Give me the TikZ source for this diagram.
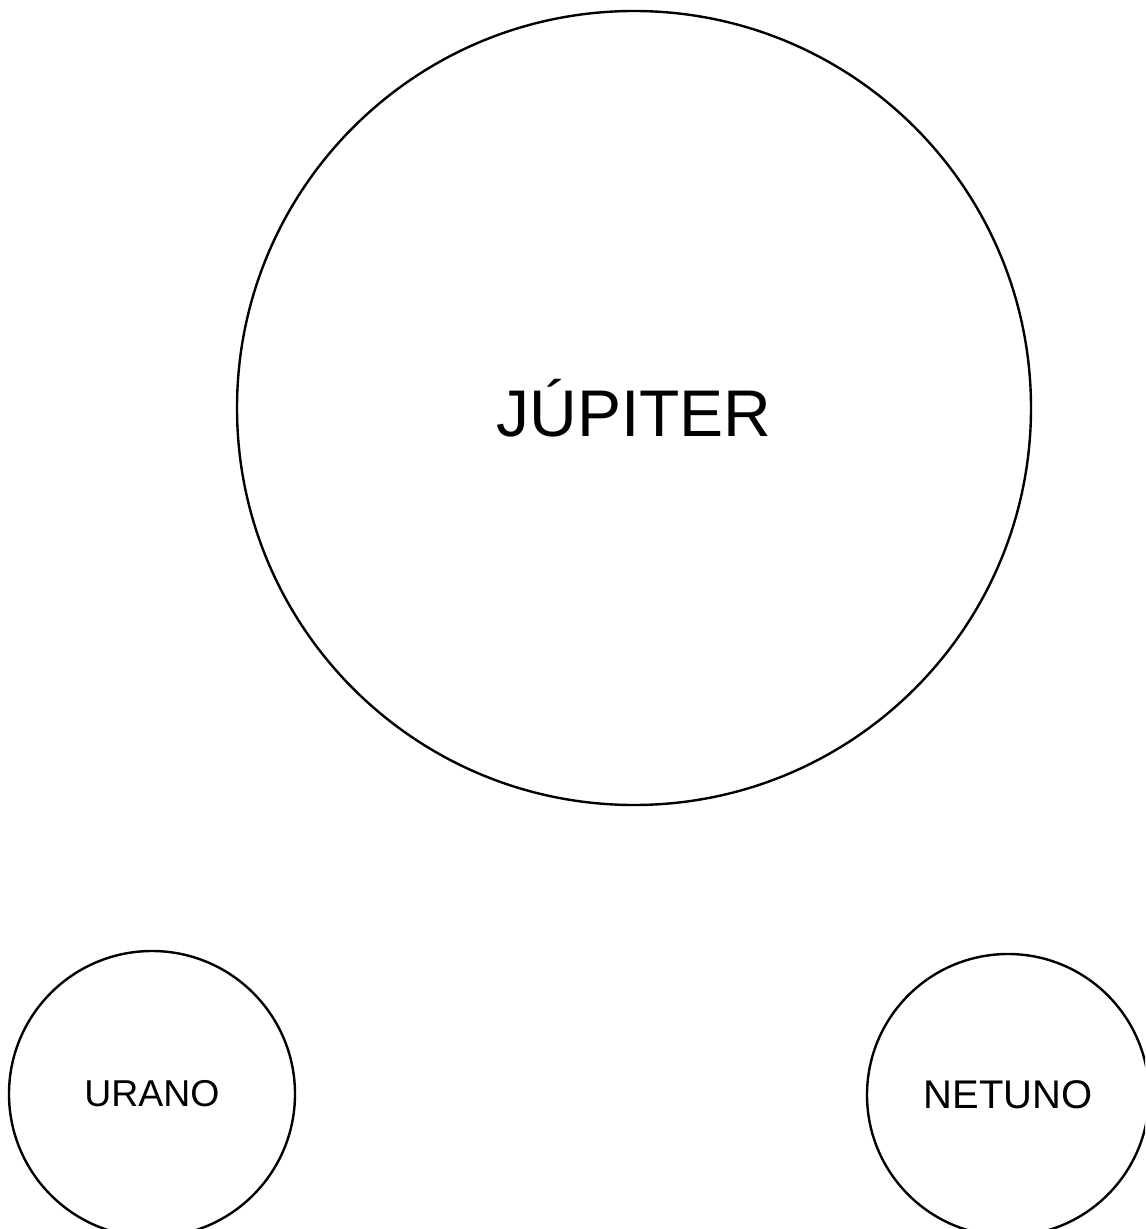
\documentclass[tikz,border=0pt]{standalone}
\usepackage{fontspec}
\setmainfont{Liberation Sans}
\usetikzlibrary{positioning}

\begin{document}
\begin{tikzpicture}[x=0.5pt,y=-0.5pt,
	planet/.style={circle,draw,line width=1.2pt,inner sep=0pt}]
	\useasboundingbox (0,0) rectangle (1145,1229);
	\clip (0,0) rectangle (1145,1229);
	\node[planet,minimum size=397pt,font=\fontsize{33}{40}\selectfont] (jupiter) at (634,408) {\raisebox{-4pt}{JÚPITER}};
	\node[planet,minimum size=143pt,font=\fontsize{18.7}{22}\selectfont] (urano) at (152,1094) {URANO};
	\node[planet,minimum size=141pt,font=\fontsize{20}{24}\selectfont] (netuno) at (1008,1095) {NETUNO};
\end{tikzpicture}
\end{document}
